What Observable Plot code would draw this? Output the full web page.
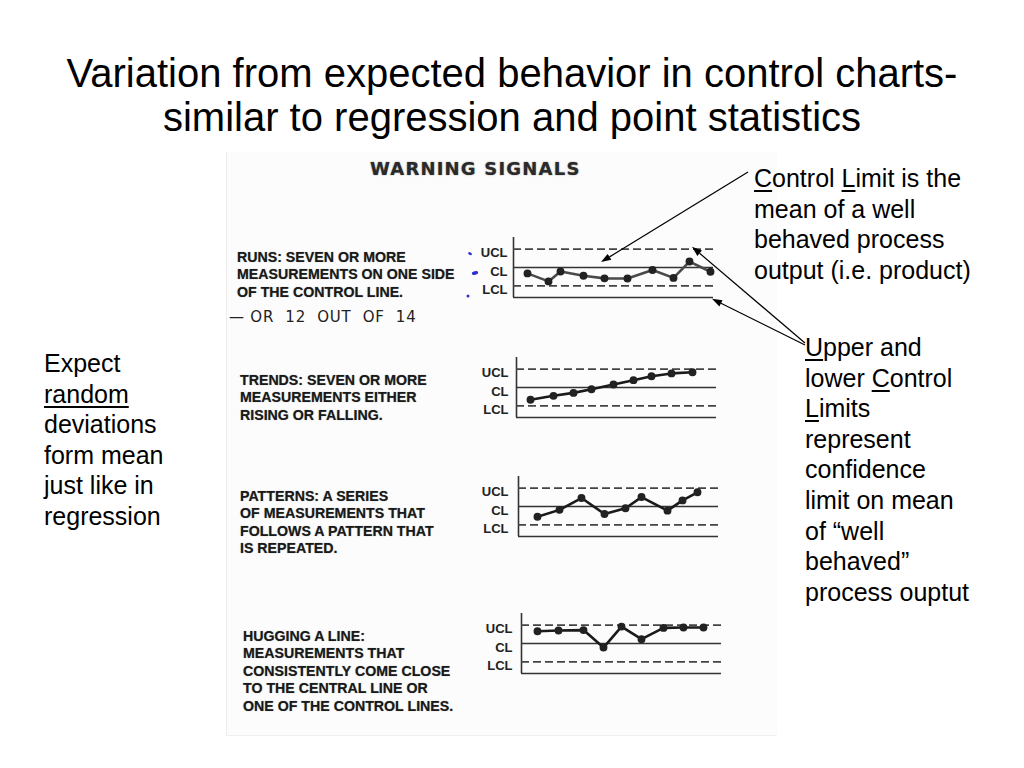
<!DOCTYPE html>
<html><head><meta charset="utf-8">
<script src="https://cdn.jsdelivr.net/npm/d3@7"></script>
<script src="https://cdn.jsdelivr.net/npm/@observablehq/plot@0.6"></script>
<style>
body{margin:0;background:#fff;}
#slide{position:relative;width:1024px;height:768px;overflow:hidden;font-family:"Liberation Sans",Arial,sans-serif;color:#000;}
.abs{position:absolute;white-space:nowrap;}
.title{left:0;width:1024px;top:51px;text-align:center;font-size:40px;line-height:44px;}
.note{font-size:25px;line-height:30.6px;}
.scan{left:226px;top:152px;width:550px;height:583px;background:#fcfcfc;border-left:1px solid #ececec;border-bottom:1px solid #f0f0f0;}
.scantxt{font-weight:bold;font-size:14.2px;line-height:17.4px;color:#1a1a1a;text-shadow:0 0 1px rgba(0,0,0,0.45);}
.warn{left:370px;top:158px;font-family:"DejaVu Sans",sans-serif;font-weight:bold;font-size:18px;letter-spacing:1.2px;color:#2a2a2a;text-shadow:0 0 1.5px rgba(0,0,0,0.5);}
.hand{left:229px;top:308px;font-family:"DejaVu Sans",sans-serif;font-size:15px;letter-spacing:0.8px;color:#222;}
u{text-decoration-thickness:1.5px;text-underline-offset:3px;}
</style></head><body><div id="slide"></div>
<script>
// ---- data ----
const limitLevels = [-3, 0, 3];
const limitLabels = ["LCL", "CL", "UCL"];
const baseLevel = -4.9;

const runsX = [1.4, 3.5, 4.7, 7.0, 9.1, 11.4, 13.9, 16.0, 17.6, 19.7];
const runsY = [-0.96, -2.27, -0.65, -1.35, -1.77, -1.8, -0.4, -1.7, 0.97, -0.7];

const trendsX = [1.4, 3.7, 5.7, 7.5, 9.7, 11.7, 13.5, 15.5, 17.6];
const trendsY = [-2.0, -1.36, -0.88, -0.29, 0.5, 1.2, 1.83, 2.3, 2.5];

const patternsX = [1.9, 4.1, 6.3, 8.6, 10.7, 12.3, 14.9, 16.4, 17.9];
const patternsY = [-1.67, -0.55, 1.38, -1.22, -0.29, 1.54, -0.68, 1.0, 2.32];

const huggingX = [1.6, 3.7, 6.2, 8.2, 10.0, 12.0, 14.2, 16.2, 18.2];
const huggingY = [2.0, 2.12, 2.19, -0.66, 2.76, 0.71, 2.55, 2.62, 2.62];

const titleLines = ["Variation from expected behavior in control charts-", "similar to regression and point statistics"];

// ---- layout ----
const slide = document.getElementById("slide");
function addDiv(cls, html, style) {
  const d = document.createElement("div");
  d.className = "abs " + cls;
  d.innerHTML = html;
  if (style) Object.assign(d.style, style);
  slide.appendChild(d);
  return d;
}

addDiv("title", titleLines.join("<br>"));
addDiv("scan", "");
addDiv("warn", "WARNING SIGNALS");
addDiv("scantxt", "RUNS: SEVEN OR MORE<br>MEASUREMENTS ON ONE SIDE<br>OF THE CONTROL LINE.", {left:"237px", top:"249px"});
addDiv("hand", "— OR &nbsp;12 &nbsp;OUT &nbsp;OF &nbsp;14");
addDiv("scantxt", "TRENDS: SEVEN OR MORE<br>MEASUREMENTS EITHER<br>RISING OR FALLING.", {left:"240px", top:"372px"});
addDiv("scantxt", "PATTERNS: A SERIES<br>OF MEASUREMENTS THAT<br>FOLLOWS A PATTERN THAT<br>IS REPEATED.", {left:"240px", top:"488px"});
addDiv("scantxt", "HUGGING A LINE:<br>MEASUREMENTS THAT<br>CONSISTENTLY COME CLOSE<br>TO THE CENTRAL LINE OR<br>ONE OF THE CONTROL LINES.", {left:"243px", top:"628px"});

addDiv("note", "Expect<br><u>random</u><br>deviations<br>form mean<br>just like in<br>regression", {left:"44px", top:"348px"});
addDiv("note", "<u>C</u>ontrol <u>L</u>imit is the<br>mean of a well<br>behaved process<br>output (i.e. product)", {left:"754px", top:"163px"});
addDiv("note", "<u>U</u>pper and<br>lower <u>C</u>ontrol<br><u>L</u>imits<br>represent<br>confidence<br>limit on mean<br>of “well<br>behaved”<br>process ouptut", {left:"805px", top:"332px"});

const ML = 45, MT = 4, PH = 60;
function controlChart(xs, ys, axisX, clY, pad, lineColor) {
  const data = xs.map((x, i) => ({x, y: ys[i]}));
  const p = Plot.plot({
    width: ML + 200 + 8, height: MT + PH + 4,
    marginLeft: ML, marginRight: 8, marginTop: MT, marginBottom: 4,
    x: {domain: [0, 20], axis: null},
    y: {domain: [baseLevel, -baseLevel], label: null},
    style: {background: "transparent", overflow: "visible", color: "#222", fontFamily: "Liberation Sans, Arial, sans-serif", fontWeight: "bold", fontSize: "13px"},
    marks: [
      Plot.ruleX([0], {stroke: "#333", strokeWidth: 1.6}),
      Plot.ruleY([baseLevel], {stroke: "#333", strokeWidth: 1.6}),
      Plot.ruleY([0], {stroke: "#333", strokeWidth: 1.6}),
      Plot.ruleY([-3, 3], {stroke: "#444", strokeWidth: 1.6, strokeDasharray: "8,4"}),
      Plot.axisY(limitLevels, {label: null, tickSize: 0, tickPadding: pad, dy: 4, fontSize: 13, fontWeight: "bold",
        tickFormat: d => limitLabels[limitLevels.indexOf(d)]}),
      Plot.line(data, {x: "x", y: "y", stroke: lineColor, strokeWidth: 2.6}),
      Plot.dot(data, {x: "x", y: "y", r: 3.2, fill: "#222", stroke: "#222"})
    ]
  });
  const left = axisX - ML, top = clY - (MT + PH / 2);
  Object.assign(p.style, {position: "absolute", left: left + "px", top: top + "px"});
  slide.appendChild(p);
  return {p, left, top};
}

const c1 = controlChart(runsX, runsY, 513, 267, 6, "#4a4a4a");
controlChart(trendsX, trendsY, 516, 387, 8, "#1a1a1a");
controlChart(patternsX, patternsY, 518, 505.7, 10, "#1a1a1a");
controlChart(huggingX, huggingY, 521, 643, 9, "#1a1a1a");

// ---- annotation overlay (arrows + blue hand marks), tips from chart-1 scales ----
const sx = c1.p.scale("x"), sy = c1.p.scale("y");
const px = v => c1.left + sx.apply(v), py = v => c1.top + sy.apply(v);
const NS = "http://www.w3.org/2000/svg";
const ov = document.createElementNS(NS, "svg");
ov.setAttribute("width", 1024); ov.setAttribute("height", 768);
Object.assign(ov.style, {position: "absolute", left: 0, top: 0, pointerEvents: "none"});
slide.appendChild(ov);
function arrow(x1, y1, x2, y2) {
  const l = document.createElementNS(NS, "line");
  const a = Math.atan2(y2 - y1, x2 - x1), L = 10, W = 3.5;
  const bx = x2 - L * Math.cos(a), by = y2 - L * Math.sin(a);
  l.setAttribute("x1", x1); l.setAttribute("y1", y1); l.setAttribute("x2", bx); l.setAttribute("y2", by);
  l.setAttribute("stroke", "#000"); l.setAttribute("stroke-width", 1.2);
  ov.appendChild(l);
  const h = document.createElementNS(NS, "polygon");
  const pts = [[x2, y2], [bx - W * Math.sin(a), by + W * Math.cos(a)], [bx + W * Math.sin(a), by - W * Math.cos(a)]];
  h.setAttribute("points", pts.map(q => q.join(",")).join(" "));
  h.setAttribute("fill", "#000");
  ov.appendChild(h);
}
arrow(748, 172, px(8.8), py(0.8));
arrow(805, 343, px(17.9), py(3.3));
arrow(805, 345, px(19.9), py(baseLevel - 0.3));
function blue(x, y, rx, ry, rot) {
  const e = document.createElementNS(NS, "ellipse");
  e.setAttribute("cx", x); e.setAttribute("cy", y); e.setAttribute("rx", rx); e.setAttribute("ry", ry);
  e.setAttribute("transform", `rotate(${rot} ${x} ${y})`);
  e.setAttribute("fill", "#2b2fd0");
  ov.appendChild(e);
}
blue(470, py(3) + 5, 2, 1.3, 30);
blue(475, py(0) + 6, 3.2, 1.8, -15);
blue(468, py(baseLevel) - 1, 1.5, 1.5, 0);
</script></body></html>
